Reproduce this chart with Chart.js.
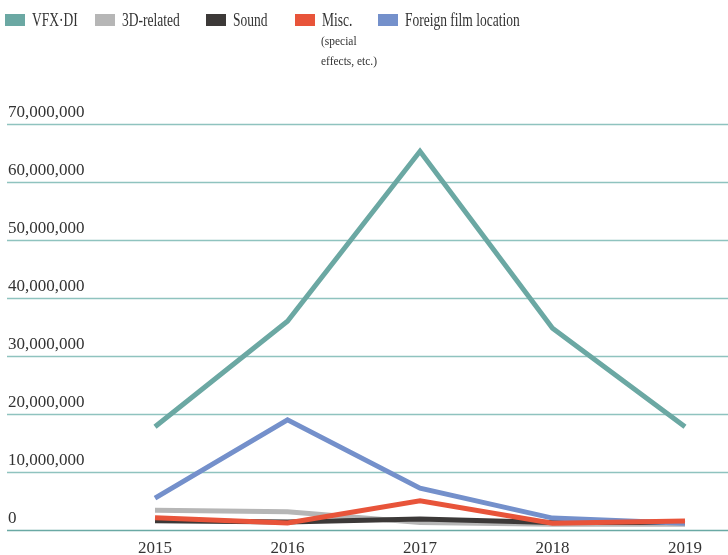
<!DOCTYPE html>
<html>
<head>
<meta charset="utf-8">
<script src="https://cdn.jsdelivr.net/npm/chart.js@4/dist/chart.umd.min.js"></script>
<style>
  html, body { margin: 0; padding: 0; background: #fff; }
  #wrap { position: relative; width: 728px; height: 555px; font-family: "Liberation Serif", serif; color: #333; }
  #legend { position: absolute; left: 0; top: 0; width: 728px; height: 80px; }
  .item { position: absolute; top: 0; height: 80px; white-space: nowrap; }
  .sw { position: absolute; top: 14px; left: 0; width: 20px; height: 12px; }
  .txt { position: absolute; left: 27px; top: 10px; font-size: 18px; line-height: 20px; transform: scaleX(0.75); transform-origin: left top; }
  .sub { position: absolute; left: 26px; top: 31px; font-size: 13px; line-height: 20px; transform: scaleX(0.88); transform-origin: left top; }
  canvas { position: absolute; left: 0; top: 0; }
</style>
</head>
<body>
<div id="wrap">
  <canvas id="chart" width="728" height="555"></canvas>
  <div id="legend"></div>
</div>
<script>
const years = ["2015", "2016", "2017", "2018", "2019"]
const yTicks = [0, 10000000, 20000000, 30000000, 40000000, 50000000, 60000000, 70000000]

const vfxDi = [17800000, 36000000, 65300000, 34800000, 17800000]
const threeD = [3400000, 3150000, 1300000, 1000000, 1000000]
const sound = [1600000, 1400000, 1900000, 1300000, 1300000]
const misc = [2100000, 1200000, 5050000, 1150000, 1550000]
const foreign = [5500000, 19000000, 7200000, 2050000, 1150000]

const seriesNames = ["VFX·DI", "3D-related", "Sound", "Misc.", "Foreign film location"]
const seriesColors = ["#6ba8a3", "#b6b6b6", "#3c3938", "#e8543a", "#7490cb"]

// legend built in HTML so the "Misc." entry can carry its note underneath
const legendX = [5, 95, 206, 295, 378]
const legend = document.getElementById("legend")
seriesNames.forEach((name, i) => {
  const item = document.createElement("div")
  item.className = "item"
  item.style.left = legendX[i] + "px"
  let html = '<span class="sw" style="background:' + seriesColors[i] + '"></span><span class="txt">' + name + "</span>"
  if (i === 3) html += '<span class="sub">(special<br>effects, etc.)</span>'
  item.innerHTML = html
  legend.appendChild(item)
})

// full-width grid lines with their labels sitting on top
const gridPlugin = {
  id: "fullGrid",
  beforeDatasetsDraw(chart) {
    const ctx = chart.ctx
    const y = chart.scales.y
    ctx.save()
    yTicks.forEach((v) => {
      const py = Math.round(y.getPixelForValue(v)) + 0.5
      ctx.strokeStyle = v === 0 ? "#6aa9a4" : "#8fc3bf"
      ctx.lineWidth = 1.5
      ctx.beginPath()
      ctx.moveTo(7, py)
      ctx.lineTo(chart.width, py)
      ctx.stroke()
      ctx.fillStyle = "#333"
      ctx.font = '17px "Liberation Serif"'
      ctx.textAlign = "left"
      ctx.textBaseline = "alphabetic"
      ctx.fillText(v.toLocaleString("en-US"), 8, py - 8)
    })
    ctx.restore()
  },
}

const data = [vfxDi, threeD, sound, misc, foreign]
const drawOrder = [1, 5, 4, 2, 3]

new Chart(document.getElementById("chart"), {
  type: "line",
  data: {
    labels: years,
    datasets: data.map((values, i) => ({
      label: seriesNames[i],
      data: values,
      borderColor: seriesColors[i],
      backgroundColor: seriesColors[i],
      borderWidth: 5,
      pointRadius: 0,
      tension: 0,
      order: drawOrder[i],
    })),
  },
  options: {
    responsive: false,
    animation: false,
    layout: { padding: { left: 155, right: 43, top: 124, bottom: -12 } },
    plugins: { legend: { display: false }, tooltip: { enabled: false } },
    scales: {
      x: {
        offset: false,
        grid: { display: false, drawTicks: false },
        border: { display: false },
        ticks: { color: "#333", padding: 10, font: { family: "Liberation Serif", size: 17, lineHeight: 1 } },
      },
      y: {
        display: false,
        min: 0,
        max: 70000000,
      },
    },
  },
  plugins: [gridPlugin],
})
</script>
</body>
</html>
